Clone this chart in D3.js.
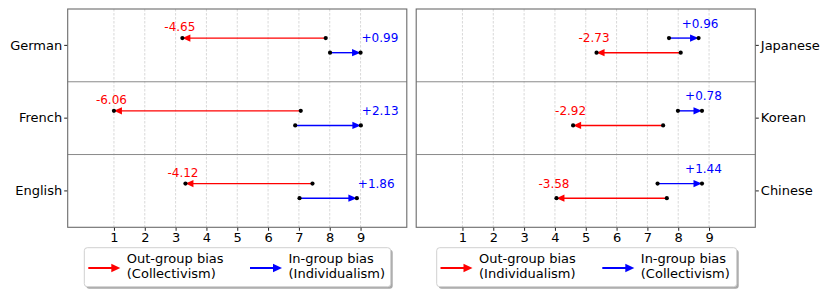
<!DOCTYPE html>
<html><head><meta charset="utf-8">
<script src="https://cdn.jsdelivr.net/npm/d3@7"></script>
<style>body{margin:0;background:#fff}svg{display:block;font-family:"DejaVu Sans",sans-serif}</style>
</head><body><svg id="c" width="830" height="297"></svg>
<script>
// ---- data ----
const xTicks = [1,2,3,4,5,6,7,8,9];
const leftLangs = ["German","French","English"];
const leftOutStart = [7.87, 7.06, 7.44];
const leftOutEnd   = [3.22, 1.00, 3.32];
const leftOutLabels = ["-4.65","-6.06","-4.12"];
const leftInStart = [8.01, 6.88, 7.02];
const leftInEnd   = [9.00, 9.01, 8.88];
const leftInLabels = ["+0.99","+2.13","+1.86"];
const rightLangs = ["Japanese","Korean","Chinese"];
const rightOutStart = [8.08, 7.51, 7.63];
const rightOutEnd   = [5.35, 4.59, 4.05];
const rightOutLabels = ["-2.73","-2.92","-3.58"];
const rightInStart = [7.70, 7.99, 7.33];
const rightInEnd   = [8.66, 8.77, 8.77];
const rightInLabels = ["+0.96","+0.78","+1.44"];
const leftLegend = [["Out-group bias","(Collectivism)"],["In-group bias","(Individualism)"]];
const rightLegend = [["Out-group bias","(Individualism)"],["In-group bias","(Collectivism)"]];

const svg = d3.select("#c");
const RED = "#ff0000", BLUE = "#0000ff";

function arrow(g, x1, x2, y, color, lw, hl, hw) {
  const dir = x2 > x1 ? 1 : -1;
  g.append("line").attr("x1", x1).attr("x2", x2 - dir*hl*0.9).attr("y1", y).attr("y2", y)
    .attr("stroke", color).attr("stroke-width", lw);
  g.append("path").attr("d", `M${x2},${y} L${x2-dir*hl},${y-hw} L${x2-dir*hl},${y+hw} Z`).attr("fill", color);
}

function panel(opt) {
  const top = 9, bottom = 227.3;
  const x = d3.scaleLinear().domain([-0.5, 10.5]).range(opt.xr);
  const y = d3.scaleBand().domain(opt.langs).range([top, bottom]);
  const g = svg.append("g");
  // grid
  g.selectAll("line.grid").data(xTicks).join("line").attr("class","grid")
    .attr("x1", d => x(d)).attr("x2", d => x(d)).attr("y1", top).attr("y2", bottom)
    .attr("stroke", "#cfcfcf").attr("stroke-width", 0.8).attr("stroke-dasharray", "2.5,1.5");
  // row separators
  opt.langs.slice(1).forEach(l => {
    g.append("line").attr("x1", opt.xr[0]).attr("x2", opt.xr[1]).attr("y1", y(l)).attr("y2", y(l))
      .attr("stroke", "#8a8a8a").attr("stroke-width", 1);
  });
  // x axis
  const xa = g.append("g").attr("transform", `translate(0,${bottom})`)
    .call(d3.axisBottom(x).tickValues(xTicks).tickSize(3.5).tickPadding(2).tickFormat(d3.format("d")));
  xa.select(".domain").remove();
  xa.selectAll("line").attr("stroke", "#222");
  xa.selectAll("text").attr("font-size", 13).attr("fill", "#000").attr("font-family", "DejaVu Sans");
  // y axis
  const yAxis = opt.side === "left" ? d3.axisLeft(y) : d3.axisRight(y);
  const ya = g.append("g").attr("transform", `translate(${opt.side === "left" ? opt.xr[0] : opt.xr[1]},0)`)
    .call(yAxis.tickSize(3.5).tickPadding(2));
  ya.select(".domain").remove();
  ya.selectAll("line").attr("stroke", "#222");
  ya.selectAll("text").attr("font-size", 13).attr("fill", "#000").attr("font-family", "DejaVu Sans");
  // border
  g.append("rect").attr("x", opt.xr[0]).attr("y", top).attr("width", opt.xr[1]-opt.xr[0]).attr("height", bottom-top)
    .attr("fill", "none").attr("stroke", "#6b6b6b").attr("stroke-width", 1.1);
  // arrows
  opt.langs.forEach((l, i) => {
    const c = y(l) + y.bandwidth()/2;
    const yOut = c + opt.outOff, yIn = c + opt.inOff;
    const ag = g.append("g");
    arrow(ag, x(opt.outStart[i]), x(opt.outEnd[i]), yOut, RED, 1.4, 8, 3.6);
    arrow(ag, x(opt.inStart[i]), x(opt.inEnd[i]), yIn, BLUE, 1.4, 8.5, 3.6);
    [[opt.outStart[i], yOut],[opt.outEnd[i], yOut],[opt.inStart[i], yIn],[opt.inEnd[i], yIn]].forEach(p => {
      ag.append("circle").attr("cx", x(p[0])).attr("cy", p[1]).attr("r", 2.1).attr("fill", "#000");
    });
    ag.append("text").attr("x", x(opt.outEnd[i]) - 2.5).attr("y", yOut - opt.outLab + 4.4)
      .attr("text-anchor", "middle").attr("font-size", 12).attr("fill", RED).text(opt.outLabels[i]);
    ag.append("text").attr("x", x(opt.inEnd[i]) + opt.inLabDx).attr("y", yIn - 14.8 + 4.4)
      .attr("text-anchor", opt.inAnchor).attr("font-size", 12).attr("fill", BLUE).text(opt.inLabels[i]);
  });
  // legend
  const L = opt.legend;
  const lg = svg.append("g");
  lg.append("rect").attr("x", L.x + 2).attr("y", 249.7).attr("width", L.w).attr("height", 39).attr("rx", 3)
    .attr("fill", "#a8a8a8");
  lg.append("rect").attr("x", L.x).attr("y", 247.7).attr("width", L.w).attr("height", 39).attr("rx", 3)
    .attr("fill", "#fff").attr("stroke", "#d0d0d0").attr("stroke-width", 1);
  const cols = [RED, BLUE];
  L.items.forEach((it, k) => {
    arrow(lg, L.ax[k], L.ax[k] + 32, 268, cols[k], 2, 9, 4.2);
    it.forEach((t, j) => {
      lg.append("text").attr("x", L.ax[k] + 38.5).attr("y", 262.5 + j*15)
        .attr("font-size", 13).attr("fill", "#000").text(t);
    });
  });
}

panel({xr:[67.7, 406.8], langs:leftLangs, side:"left", outOff:-7.3, inOff:7.3, outLab:11.5,
  outStart:leftOutStart, outEnd:leftOutEnd, outLabels:leftOutLabels,
  inStart:leftInStart, inEnd:leftInEnd, inLabels:leftInLabels, inAnchor:"start", inLabDx:1,
  legend:{x:84.3, w:306.4, ax:[88.3, 250], items:leftLegend}});
panel({xr:[416.2, 755.3], langs:rightLangs, side:"right", outOff:7.3, inOff:-7.3, outLab:14.8,
  outStart:rightOutStart, outEnd:rightOutEnd, outLabels:rightOutLabels,
  inStart:rightInStart, inEnd:rightInEnd, inLabels:rightInLabels, inAnchor:"middle", inLabDx:1.5,
  legend:{x:436.7, w:300, ax:[440.5, 602.3], items:rightLegend}});
</script></body></html>
